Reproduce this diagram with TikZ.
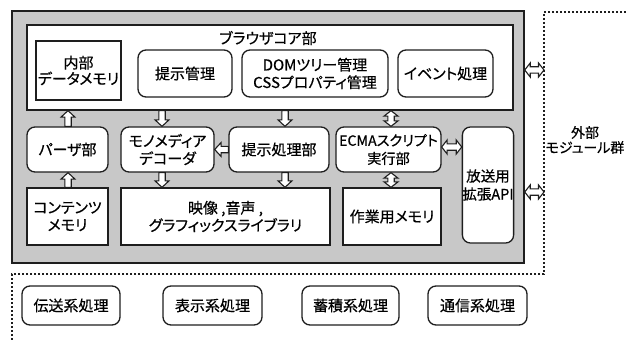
\documentclass[tikz,border=0pt]{standalone}
\usepackage{fontspec}
\setmainfont{Noto Sans CJK JP}[RawFeature=+palt, FakeBold=0.5]
\usetikzlibrary{calc}
\definecolor{panel}{RGB}{200,200,200}
\definecolor{ink}{RGB}{30,30,30}
\tikzset{
  box/.style={draw=ink, line width=1.3pt, fill=white, align=center, inner sep=0pt,
    font=\fontsize{15}{17.5}\selectfont},
  rbox/.style={box, rounded corners=8pt},
  harrow/.style={draw=ink, line width=1.1pt, fill=white, line join=miter},
  dots/.style={draw=ink, line width=2pt, dash pattern=on 2pt off 2pt},
  lbl/.style={inner sep=0pt, align=center, font=\fontsize{15}{17}\selectfont},
}
% single hollow arrow from #1 to #2
\newcommand\sarr[2]{\path[harrow] (#2)
  -- ($(#2)!6.5pt!(#1)!7pt!90:(#2)$) -- ($(#2)!6.5pt!(#1)!3.2pt!90:(#2)$)
  -- ($(#1)!3.2pt!90:(#2)$) -- ($(#1)!3.2pt!-90:(#2)$)
  -- ($(#2)!6.5pt!(#1)!3.2pt!-90:(#2)$) -- ($(#2)!6.5pt!(#1)!7pt!-90:(#2)$) -- cycle;}
% double hollow arrow between #1 and #2
\newcommand\darr[2]{\path[harrow] (#1)
  -- ($(#1)!5.5pt!(#2)!7pt!90:(#2)$) -- ($(#1)!5.5pt!(#2)!3.2pt!90:(#2)$)
  -- ($(#2)!5.5pt!(#1)!3.2pt!90:(#2)$) -- ($(#2)!5.5pt!(#1)!7pt!90:(#2)$)
  -- (#2)
  -- ($(#2)!5.5pt!(#1)!7pt!-90:(#2)$) -- ($(#2)!5.5pt!(#1)!3.2pt!-90:(#2)$)
  -- ($(#1)!5.5pt!(#2)!3.2pt!-90:(#2)$) -- ($(#1)!5.5pt!(#2)!7pt!-90:(#2)$) -- cycle;}
\begin{document}
\begin{tikzpicture}[x=1pt, y=-1pt]
\useasboundingbox (0,0) rectangle (626,342);
% panels
\node[draw=ink, line width=1.4pt, fill=panel, minimum width=512pt, minimum height=252pt, inner sep=0pt] (outer) at (268,137) {};
\node[box, minimum width=486pt, minimum height=85pt] (core) at (270,67.5) {};
\node[lbl] (coretitle) at (268,38) {ブラウザコア部};
% top row
\node[box, minimum width=85pt, minimum height=59pt, font=\fontsize{15}{16}\selectfont] (naibu) at (78.5,70.5) {内部\\データメモリ};
\node[rbox, minimum width=94pt, minimum height=47pt] (teiji) at (185,73.5) {提示管理};
\node[rbox, minimum width=146pt, minimum height=47pt] (dom) at (315,73.5) {DOMツリー管理\\CSSプロパティ管理};
\node[rbox, minimum width=95pt, minimum height=47pt] (event) at (445.5,73.5) {イベント処理};
% middle row
\node[rbox, minimum width=81pt, minimum height=45pt] (parser) at (67.5,149.5) {パーザ部};
\node[rbox, minimum width=93pt, minimum height=45pt] (mono) at (167.5,149.5) {モノメディア\\デコーダ};
\node[rbox, minimum width=100pt, minimum height=45pt] (tshori) at (279,149.5) {提示処理部};
\node[rbox, minimum width=105pt, minimum height=45pt, font=\fontsize{14.2}{18}\selectfont] (ecma) at (388.5,149.5) {ECMAスクリプト\\実行部};
\node[rbox, minimum width=50pt, minimum height=116pt, font=\fontsize{14.5}{18}\selectfont] (api) at (488,185) {放送用\\拡張API};
% bottom row
\node[box, minimum width=81pt, minimum height=57pt] (contents) at (67.5,216.5) {コンテンツ\\メモリ};
\node[box, minimum width=209pt, minimum height=57pt] (lib) at (225.5,216.5) {映像 ,音声 ,\\グラフィックスライブラリ};
\node[box, minimum width=98pt, minimum height=57pt] (work) at (392,216.5) {作業用メモリ};
% external processing
\node[rbox, minimum width=98pt, minimum height=39pt] (densou) at (71,305.5) {伝送系処理};
\node[rbox, minimum width=99pt, minimum height=39pt] (hyouji) at (212.5,305.5) {表示系処理};
\node[rbox, minimum width=97pt, minimum height=39pt] (chiku) at (350.5,305.5) {蓄積系処理};
\node[rbox, minimum width=99pt, minimum height=39pt] (tsuushin) at (477.5,305.5) {通信系処理};
\node[lbl, font=\fontsize{14}{15}\selectfont] (ext) at (585,140) {外部\\モジュール群};
% dotted boundary
\coordinate (dA) at (626,12);
\coordinate (dB) at (544,12);
\coordinate (dC) at (544,274);
\coordinate (dD) at (12,274);
\coordinate (dE) at (12,342);
\draw[dots] (dA) -- (dB) -- (dC) -- (dD) -- (dE);
% arrow anchor columns
\coordinate (xp) at (68,0);
\coordinate (xm) at (162,0);
\coordinate (xt) at (285,0);
\coordinate (xe) at (391,0);
\coordinate (ye) at (0,147);
\coordinate (y1) at (0,70);
\coordinate (y2) at (0,192);
\coordinate (p1) at (xp |- parser.north);  \coordinate (p2) at (xp |- core.south);
\coordinate (p3) at (xp |- contents.north); \coordinate (p4) at (xp |- parser.south);
\coordinate (m1) at (xm |- core.south);    \coordinate (m2) at (xm |- mono.north);
\coordinate (m3) at (xm |- mono.south);    \coordinate (m4) at (xm |- lib.north);
\coordinate (t1) at (xt |- core.south);    \coordinate (t2) at (xt |- tshori.north);
\coordinate (t3) at (xt |- tshori.south);  \coordinate (t4) at (xt |- lib.north);
\coordinate (e1) at (xe |- core.south);    \coordinate (e2) at (xe |- ecma.north);
\coordinate (e3) at (xe |- ecma.south);    \coordinate (e4) at (xe |- work.north);
\coordinate (h1) at (ecma.east |- ye);     \coordinate (h2) at (api.west |- ye);
\coordinate (g1) at (outer.east |- y1);    \coordinate (g2) at (dB |- y1);
\coordinate (g3) at (outer.east |- y2);    \coordinate (g4) at (dB |- y2);
\coordinate (l1) at (tshori.west);         \coordinate (l2) at (mono.east);
\sarr{p1}{p2}
\sarr{p3}{p4}
\sarr{m1}{m2}
\sarr{m3}{m4}
\sarr{t1}{t2}
\sarr{t3}{t4}
\sarr{l1}{l2}
\darr{e1}{e2}
\darr{e3}{e4}
\darr{h1}{h2}
\darr{g1}{g2}
\darr{g3}{g4}
\end{tikzpicture}
\end{document}
